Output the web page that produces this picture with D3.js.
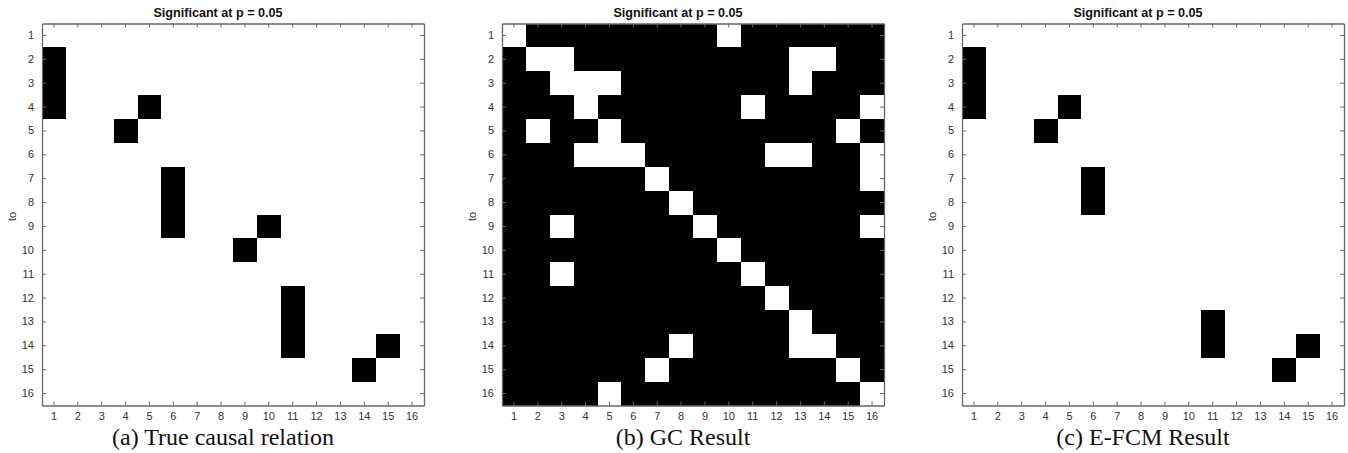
<!DOCTYPE html>
<html>
<head>
<meta charset="utf-8">
<script src="https://cdn.jsdelivr.net/npm/d3@7"></script>
<style>
  body { margin: 0; background: #fff; }
  .tick-label { font-family: "Liberation Sans", Arial, sans-serif; font-size: 11px; fill: #333; }
  .title { font-family: "Liberation Sans", Arial, sans-serif; font-size: 12.6px; font-weight: bold; fill: #111; }
  .caption { font-family: "Liberation Serif", "Times New Roman", serif; font-size: 24px; fill: #111; }
</style>
</head>
<body>
<div class="chart"></div>
<script>
const W = 1348, H = 453;
const nodes = d3.range(1, 17);
const titles = ["Significant at p = 0.05", "Significant at p = 0.05", "Significant at p = 0.05"];
const captions = ["(a) True causal relation", "(b) GC Result", "(c) E-FCM Result"];
const yLabel = "to";

// 1 = significant link (black), rows = "to", cols = "from"
const trueMatrix = [
  [0,0,0,0,0,0,0,0,0,0,0,0,0,0,0,0],
  [1,0,0,0,0,0,0,0,0,0,0,0,0,0,0,0],
  [1,0,0,0,0,0,0,0,0,0,0,0,0,0,0,0],
  [1,0,0,0,1,0,0,0,0,0,0,0,0,0,0,0],
  [0,0,0,1,0,0,0,0,0,0,0,0,0,0,0,0],
  [0,0,0,0,0,0,0,0,0,0,0,0,0,0,0,0],
  [0,0,0,0,0,1,0,0,0,0,0,0,0,0,0,0],
  [0,0,0,0,0,1,0,0,0,0,0,0,0,0,0,0],
  [0,0,0,0,0,1,0,0,0,1,0,0,0,0,0,0],
  [0,0,0,0,0,0,0,0,1,0,0,0,0,0,0,0],
  [0,0,0,0,0,0,0,0,0,0,0,0,0,0,0,0],
  [0,0,0,0,0,0,0,0,0,0,1,0,0,0,0,0],
  [0,0,0,0,0,0,0,0,0,0,1,0,0,0,0,0],
  [0,0,0,0,0,0,0,0,0,0,1,0,0,0,1,0],
  [0,0,0,0,0,0,0,0,0,0,0,0,0,1,0,0],
  [0,0,0,0,0,0,0,0,0,0,0,0,0,0,0,0]
];

const gcMatrix = [
  [0,1,1,1,1,1,1,1,1,0,1,1,1,1,1,1],
  [1,0,0,1,1,1,1,1,1,1,1,1,0,0,1,1],
  [1,1,0,0,0,1,1,1,1,1,1,1,0,1,1,1],
  [1,1,1,0,1,1,1,1,1,1,0,1,1,1,1,0],
  [1,0,1,1,0,1,1,1,1,1,1,1,1,1,0,1],
  [1,1,1,0,0,0,1,1,1,1,1,0,0,1,1,0],
  [1,1,1,1,1,1,0,1,1,1,1,1,1,1,1,0],
  [1,1,1,1,1,1,1,0,1,1,1,1,1,1,1,1],
  [1,1,0,1,1,1,1,1,0,1,1,1,1,1,1,0],
  [1,1,1,1,1,1,1,1,1,0,1,1,1,1,1,1],
  [1,1,0,1,1,1,1,1,1,1,0,1,1,1,1,1],
  [1,1,1,1,1,1,1,1,1,1,1,0,1,1,1,1],
  [1,1,1,1,1,1,1,1,1,1,1,1,0,1,1,1],
  [1,1,1,1,1,1,1,0,1,1,1,1,0,0,1,1],
  [1,1,1,1,1,1,0,1,1,1,1,1,1,1,0,1],
  [1,1,1,1,0,1,1,1,1,1,1,1,1,1,1,0]
];

const efcmMatrix = [
  [0,0,0,0,0,0,0,0,0,0,0,0,0,0,0,0],
  [1,0,0,0,0,0,0,0,0,0,0,0,0,0,0,0],
  [1,0,0,0,0,0,0,0,0,0,0,0,0,0,0,0],
  [1,0,0,0,1,0,0,0,0,0,0,0,0,0,0,0],
  [0,0,0,1,0,0,0,0,0,0,0,0,0,0,0,0],
  [0,0,0,0,0,0,0,0,0,0,0,0,0,0,0,0],
  [0,0,0,0,0,1,0,0,0,0,0,0,0,0,0,0],
  [0,0,0,0,0,1,0,0,0,0,0,0,0,0,0,0],
  [0,0,0,0,0,0,0,0,0,0,0,0,0,0,0,0],
  [0,0,0,0,0,0,0,0,0,0,0,0,0,0,0,0],
  [0,0,0,0,0,0,0,0,0,0,0,0,0,0,0,0],
  [0,0,0,0,0,0,0,0,0,0,0,0,0,0,0,0],
  [0,0,0,0,0,0,0,0,0,0,1,0,0,0,0,0],
  [0,0,0,0,0,0,0,0,0,0,1,0,0,0,1,0],
  [0,0,0,0,0,0,0,0,0,0,0,0,0,1,0,0],
  [0,0,0,0,0,0,0,0,0,0,0,0,0,0,0,0]
];

const matrices = [trueMatrix, gcMatrix, efcmMatrix];

const panelLeft = [42, 502, 962];
const panelTop = 23.5, size = 382;
const axisColor = "#666";

const svg = d3.select('.chart')
  .append('svg')
  .attr('width', W)
  .attr('height', H);

matrices.forEach((m, p) => {
  const g = svg.append('g')
    .attr('transform', "translate(" + panelLeft[p] + "," + panelTop + ")");

  const x = d3.scaleBand().domain(nodes).range([0, size]);
  const y = d3.scaleBand().domain(nodes).range([0, size]);

  const cells = [];
  m.forEach((row, i) => row.forEach((v, j) => {
    if (v) cells.push({to: i + 1, from: j + 1});
  }));

  g.append('rect')
    .attr('width', size).attr('height', size)
    .attr('fill', '#fff');

  g.selectAll('rect.cell')
    .data(cells)
    .enter()
    .append('rect')
    .attr('class', 'cell')
    .attr('x', d => x(d.from))
    .attr('y', d => y(d.to))
    .attr('width', x.bandwidth())
    .attr('height', y.bandwidth())
    .attr('fill', '#000')
    .attr('shape-rendering', 'crispEdges');

  // axes, ticks inward on all sides
  const tickLen = 4;
  const axes = [
    {axis: d3.axisBottom(x).tickSizeInner(-tickLen).tickSizeOuter(0).tickPadding(7), t: "translate(0," + size + ")"},
    {axis: d3.axisTop(x).tickSizeInner(-tickLen).tickSizeOuter(0).tickFormat(""), t: "translate(0,0)"},
    {axis: d3.axisLeft(y).tickSizeInner(-tickLen).tickSizeOuter(0).tickPadding(8), t: "translate(0,0)"},
    {axis: d3.axisRight(y).tickSizeInner(-tickLen).tickSizeOuter(0).tickFormat(""), t: "translate(" + size + ",0)"}
  ];
  axes.forEach(a => {
    const ag = g.append('g')
      .attr('transform', a.t)
      .call(a.axis);
    ag.select('.domain').attr('stroke', axisColor).attr('stroke-width', 1.3);
    ag.selectAll('.tick line').attr('stroke', axisColor).attr('stroke-width', 1);
    ag.selectAll('text').attr('class', 'tick-label').attr('font-size', null).attr('font-family', null).attr('fill', null);
  });

  g.append('text')
    .attr('class', 'title')
    .attr('x', size / 2 - 15)
    .attr('y', -7)
    .attr('text-anchor', 'middle')
    .text(titles[p]);

  g.append('text')
    .attr('class', 'tick-label')
    .attr('transform', 'rotate(-90)')
    .attr('x', -193)
    .attr('y', -26)
    .attr('text-anchor', 'middle')
    .text(yLabel);

  g.append('text')
    .attr('class', 'caption')
    .attr('x', size / 2 - 10)
    .attr('y', size + 39.5)
    .attr('text-anchor', 'middle')
    .text(captions[p]);
});
</script>
</body>
</html>
